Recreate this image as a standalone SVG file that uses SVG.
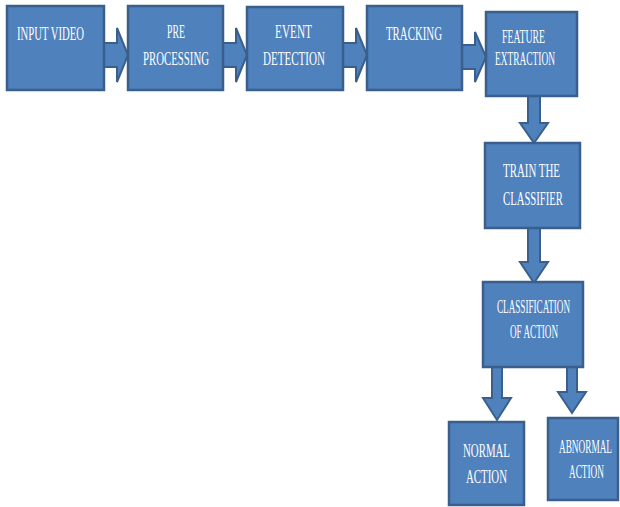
<svg xmlns="http://www.w3.org/2000/svg" width="620" height="507" viewBox="0 0 620 507">
<style>
.box{fill:#4F81BD;stroke:#3A5F8C;stroke-width:2.5}
.arr{fill:#4F81BD;stroke:#3A5F8C;stroke-width:2;stroke-linejoin:miter}
text{font-family:"Liberation Serif","Times New Roman",serif;font-size:18.5px;fill:#FFFFFF}
</style>
<rect width="620" height="507" fill="#FFFFFF"/>
<g id="connectors">
<polygon class="arr" points="104,43 117,43 117,28 128,55 117,82 117,67 104,67"/>
<polygon class="arr" points="223,43 236,43 236,28 247,55 236,82 236,67 223,67"/>
<polygon class="arr" points="343,43 356,43 356,28 367,55 356,82 356,67 343,67"/>
<polygon class="arr" points="462,45 475,45 475,32 486,57 475,82 475,69 462,69"/>
<polygon class="arr" points="528,96 540,96 540,123 548,123 534,143 520,123 528,123"/>
<polygon class="arr" points="528,228 540,228 540,262 548,262 534,283 520,262 528,262"/>
<polygon class="arr" points="492,367 502,367 502,398 511,398 497,420 483,398 492,398"/>
<polygon class="arr" points="567,367 577,367 577,392 586,392 572,413 558,392 567,392"/>
</g>
<g id="input-video">
<rect class="box" x="7" y="6" width="97" height="84"/>
<text x="17" y="40" textLength="67" lengthAdjust="spacingAndGlyphs">INPUT VIDEO</text>
</g>
<g id="pre-processing">
<rect class="box" x="128" y="6" width="95" height="84"/>
<text x="167" y="38" textLength="18" lengthAdjust="spacingAndGlyphs">PRE</text>
<text x="143" y="65" textLength="66" lengthAdjust="spacingAndGlyphs">PROCESSING</text>
</g>
<g id="event-detection">
<rect class="box" x="247" y="7" width="96" height="83"/>
<text x="275" y="38" textLength="37" lengthAdjust="spacingAndGlyphs">EVENT</text>
<text x="263" y="65" textLength="62" lengthAdjust="spacingAndGlyphs">DETECTION</text>
</g>
<g id="tracking">
<rect class="box" x="367" y="6" width="95" height="84"/>
<text x="386" y="40" textLength="56" lengthAdjust="spacingAndGlyphs">TRACKING</text>
</g>
<g id="feature-extraction">
<rect class="box" x="486" y="12" width="91" height="84"/>
<text x="502" y="43" textLength="43" lengthAdjust="spacingAndGlyphs">FEATURE</text>
<text x="495" y="65" textLength="60" lengthAdjust="spacingAndGlyphs">EXTRACTION</text>
</g>
<g id="train-classifier">
<rect class="box" x="485" y="143" width="95" height="85"/>
<text x="503" y="177" textLength="57" lengthAdjust="spacingAndGlyphs">TRAIN THE</text>
<text x="503" y="205" textLength="60" lengthAdjust="spacingAndGlyphs">CLASSIFIER</text>
</g>
<g id="classification-of-action">
<rect class="box" x="483" y="282" width="100" height="85"/>
<text x="497" y="313" textLength="73" lengthAdjust="spacingAndGlyphs">CLASSIFICATION</text>
<text x="510" y="338" textLength="48" lengthAdjust="spacingAndGlyphs">OF ACTION</text>
</g>
<g id="normal-action">
<rect class="box" x="449" y="422" width="75" height="83"/>
<text x="463" y="457" textLength="47" lengthAdjust="spacingAndGlyphs">NORMAL</text>
<text x="466" y="483" textLength="41" lengthAdjust="spacingAndGlyphs">ACTION</text>
</g>
<g id="abnormal-action">
<rect class="box" x="548" y="418" width="70" height="82"/>
<text x="559" y="453" textLength="53" lengthAdjust="spacingAndGlyphs">ABNORMAL</text>
<text x="569" y="478" textLength="35" lengthAdjust="spacingAndGlyphs">ACTION</text>
</g>
</svg>
